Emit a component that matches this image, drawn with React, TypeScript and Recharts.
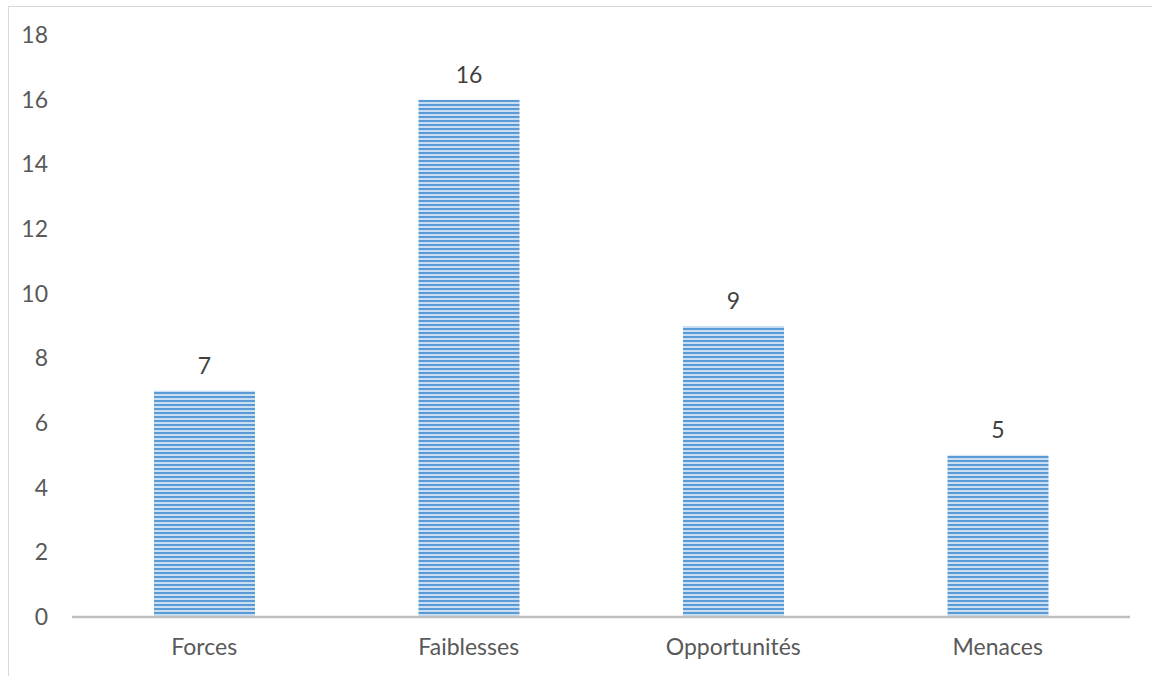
import React from "react";
import { BarChart, Bar, XAxis, YAxis, LabelList } from "recharts";

const categories = ["Forces", "Faiblesses", "Opportunités", "Menaces"];
const values = [7, 16, 9, 5];
const yTicks = [0, 2, 4, 6, 8, 10, 12, 14, 16, 18];

const data = categories.map((name, i) => ({ name, value: values[i] }));

const font = "Lato, 'Open Sans', sans-serif";

export default function App() {
  return (
    <div style={{ position: "absolute", left: 0, top: 0, width: 1152, height: 676, background: "#fff", overflow: "hidden" }}>
      <div
        style={{
          position: "absolute",
          left: 8,
          top: 6,
          width: 1200,
          height: 720,
          border: "1.5px solid #d9d9d9",
          boxSizing: "border-box",
        }}
      />
      <div style={{ position: "absolute", left: 0, top: 0 }}>
        <BarChart
          width={1152}
          height={676}
          data={data}
          margin={{ top: 35, right: 22, bottom: 0, left: 0 }}
        >
          <defs>
            <pattern id="hstripes" patternUnits="userSpaceOnUse" width="4" height="4">
              <rect x="0" y="0" width="4" height="4" fill="#c9def2" />
              <rect x="0" y="0" width="4" height="2" fill="#5b9bd5" />
            </pattern>
          </defs>
          <YAxis
            width={72}
            domain={[0, 18]}
            ticks={yTicks}
            interval={0}
            axisLine={false}
            tickLine={false}
            tickSize={0}
            tickMargin={24}
            tick={{ fill: "#595959", fontSize: 23, fontFamily: font }}
          />
          <XAxis
            dataKey="name"
            height={59}
            axisLine={{ stroke: "#bfbfbf", strokeWidth: 2.5 }}
            tickLine={false}
            tickSize={0}
            tickMargin={22}
            tick={{ fill: "#595959", fontSize: 23, fontFamily: font }}
          />
          <Bar dataKey="value" fill="url(#hstripes)" barSize={101} isAnimationActive={false}>
            <LabelList
              dataKey="value"
              position="top"
              offset={17}
              fill="#404040"
              fontSize={23}
              fontFamily={font}
            />
          </Bar>
        </BarChart>
      </div>
    </div>
  );
}
